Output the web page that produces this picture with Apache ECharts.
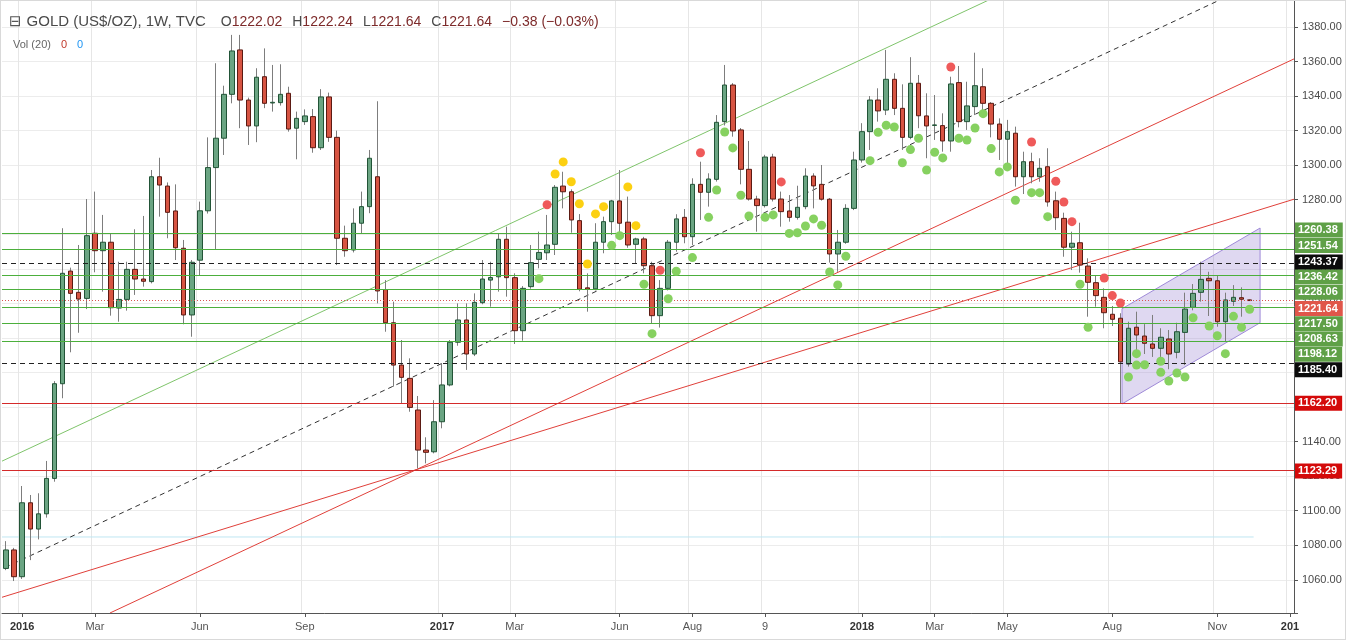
<!DOCTYPE html>
<html><head><meta charset="utf-8">
<script src="https://cdn.jsdelivr.net/npm/echarts@6/dist/echarts.min.js"></script>
<style>html,body{margin:0;padding:0;background:#fff}#c{width:1346px;height:640px;position:absolute;left:0;top:0}
#frame{position:absolute;left:0;top:0;width:1344px;height:638px;border:1px solid #d9d9d9;pointer-events:none}</style>
</head><body><div id="c"></div><div id="frame"></div>
<script>
// ---------- DATA ----------
const startWeek = Date.UTC(2015, 11, 21);
const weekCount = 160;
const weeks = [];
for (let i = 0; i < weekCount; i++) weeks.push(new Date(startWeek + i * 7 * 86400000).toISOString().slice(0, 10));

const opens = [1066.6,1077.3,1061.8,1104.6,1089.4,1098.2,1118.7,1173.5,1238.7,1226.4,
1222.9,1260.6,1250.5,1255.4,1217.3,1222.3,1239.7,1234.1,1232.6,1293.3,
1287.9,1273.5,1251.9,1213.3,1245.0,1273.6,1298.6,1315.6,1341.0,1366.7,
1337.7,1322.7,1351.2,1336.0,1336.2,1341.6,1321.4,1325.2,1328.1,1310.1,
1339.5,1316.1,1257.7,1250.9,1266.4,1276.0,1293.3,1228.0,1208.8,1184.3,
1176.6,1158.3,1135.1,1134.1,1151.5,1172.8,1197.5,1210.4,1190.7,1220.4,
1233.5,1235.4,1257.1,1234.9,1204.2,1229.7,1245.5,1249.3,1254.2,1287.9,
1284.6,1267.9,1229.0,1228.4,1255.4,1267.3,1279.3,1267.0,1254.2,1257.3,
1241.8,1212.9,1228.7,1255.4,1269.8,1258.6,1288.9,1284.3,1291.8,1325.2,
1346.4,1320.4,1297.6,1280.4,1276.6,1304.7,1280.4,1273.5,1269.8,1276.0,
1293.7,1288.9,1280.3,1248.6,1255.4,1275.0,1303.0,1319.4,1337.7,1331.9,
1349.7,1332.9,1316.1,1347.4,1328.5,1323.0,1322.9,1314.0,1347.8,1325.2,
1333.9,1345.4,1335.8,1323.8,1315.0,1318.5,1293.3,1302.0,1293.3,1299.1,
1279.4,1269.2,1252.5,1255.1,1241.6,1232.0,1223.5,1213.7,1211.4,1184.9,
1206.2,1201.1,1196.5,1194.0,1199.4,1191.7,1203.2,1217.7,1226.4,1234.5,
1233.1,1209.4,1221.2,1223.3,1222.02];
const highs = [1082.4,1078.5,1114.3,1109.1,1110.1,1128.8,1175.0,1263.5,1240.7,1253.8,
1280.4,1284.7,1271.2,1260.6,1244.1,1244.1,1262.9,1270.6,1297.2,1304.3,
1290.0,1288.9,1256.7,1245.1,1278.9,1316.1,1359.0,1346.0,1375.4,1375.4,
1339.1,1356.1,1367.6,1358.0,1358.4,1345.4,1331.0,1332.3,1332.5,1344.0,
1342.0,1320.0,1265.0,1275.0,1284.7,1308.8,1337.0,1233.5,1221.0,1198.8,
1188.2,1166.4,1142.5,1164.0,1185.3,1198.8,1220.0,1220.0,1225.8,1245.1,
1244.1,1260.6,1264.4,1237.4,1230.0,1253.8,1261.5,1271.2,1288.5,1296.2,
1286.0,1271.7,1237.4,1266.4,1270.2,1279.9,1297.2,1281.8,1258.0,1258.5,
1244.1,1233.5,1256.7,1271.6,1274.6,1292.4,1302.0,1295.3,1329.0,1358.0,
1347.5,1321.5,1314.0,1282.3,1306.0,1306.6,1284.7,1282.7,1288.1,1298.2,
1295.3,1300.1,1281.0,1262.5,1277.4,1307.8,1324.3,1340.0,1344.5,1366.7,
1353.2,1346.8,1362.5,1352.2,1341.6,1340.6,1330.0,1351.2,1357.4,1348.3,
1365.1,1356.1,1336.5,1327.1,1326.2,1322.3,1307.8,1307.2,1304.0,1309.8,
1284.7,1272.5,1261.5,1266.7,1246.1,1235.9,1228.7,1218.5,1214.3,1209.4,
1215.2,1208.0,1213.3,1205.6,1204.6,1208.8,1226.2,1231.2,1244.1,1238.3,
1236.4,1226.2,1230.6,1229.3,1222.24];
const lows = [1065.6,1059.3,1060.5,1071.4,1083.4,1096.0,1116.8,1165.1,1191.7,1203.0,
1216.7,1238.0,1226.8,1212.9,1209.4,1215.8,1224.9,1229.7,1231.6,1270.2,
1257.7,1245.1,1207.9,1200.7,1236.4,1272.0,1251.5,1305.9,1335.8,1321.4,
1311.7,1313.3,1333.0,1331.0,1334.5,1319.4,1303.4,1323.3,1307.2,1308.8,
1313.5,1242.2,1247.0,1249.5,1260.6,1272.2,1220.0,1203.6,1171.8,1162.2,
1157.3,1124.5,1127.4,1133.2,1147.7,1172.0,1195.5,1181.5,1189.5,1219.5,
1218.1,1226.8,1223.9,1196.5,1198.4,1228.5,1240.3,1245.1,1248.0,1275.0,
1260.9,1227.0,1215.2,1227.5,1249.0,1259.6,1260.6,1252.2,1243.2,1237.4,
1208.5,1206.0,1227.5,1249.9,1254.8,1253.8,1268.3,1276.0,1290.5,1323.0,
1316.5,1288.9,1279.5,1261.5,1275.5,1279.0,1264.4,1267.3,1268.5,1274.5,
1275.0,1279.5,1243.6,1238.3,1254.5,1274.0,1301.5,1308.8,1325.2,1329.0,
1329.0,1308.8,1315.0,1321.4,1304.0,1314.6,1307.8,1307.8,1321.9,1320.4,
1329.0,1331.0,1316.1,1303.0,1301.1,1287.6,1283.3,1289.5,1290.4,1276.0,
1262.5,1247.0,1239.3,1237.8,1212.3,1218.1,1205.6,1206.9,1162.2,1183.4,
1192.0,1190.7,1189.0,1189.0,1181.9,1188.2,1184.3,1216.0,1221.0,1212.7,
1206.5,1197.8,1218.5,1212.3,1221.64];
const closes = [1077.3,1061.8,1104.6,1089.4,1098.2,1118.7,1173.5,1237.4,1225.8,1222.5,
1259.2,1250.5,1255.4,1217.5,1222.3,1239.7,1234.1,1232.8,1293.3,1288.5,
1272.7,1252.2,1213.3,1243.8,1273.6,1298.6,1315.6,1341.0,1366.1,1337.7,
1322.7,1350.9,1335.8,1336.4,1341.0,1320.9,1327.1,1328.5,1310.1,1339.5,
1316.1,1257.7,1250.5,1266.4,1276.0,1304.0,1227.2,1208.8,1184.3,1177.2,
1159.8,1135.1,1133.8,1151.5,1172.8,1197.5,1210.4,1190.7,1220.6,1234.1,
1235.0,1257.1,1234.9,1204.2,1228.7,1243.6,1249.5,1253.8,1287.2,1284.6,
1268.3,1228.2,1228.2,1255.4,1267.3,1279.3,1266.4,1253.8,1257.3,1241.8,
1212.9,1228.7,1255.4,1268.9,1258.6,1288.9,1284.3,1292.0,1324.8,1346.4,
1319.8,1297.6,1280.4,1276.6,1304.7,1280.4,1273.1,1269.8,1275.6,1293.7,
1288.0,1280.3,1248.6,1255.4,1275.0,1303.0,1319.4,1337.7,1331.4,1349.7,
1332.9,1316.1,1347.4,1328.6,1322.7,1323.3,1314.0,1347.0,1325.2,1334.3,
1346.0,1335.8,1323.8,1315.0,1319.4,1293.3,1302.0,1293.3,1298.2,1278.7,
1269.6,1252.5,1254.8,1242.2,1232.2,1224.5,1214.6,1210.8,1186.2,1205.6,
1201.7,1196.9,1194.0,1200.4,1190.7,1203.6,1216.7,1225.8,1233.9,1233.1,
1209.4,1222.0,1223.5,1222.4,1221.64];

// x-axis tick labels (week index -> text)
const tickIndex = [2, 11, 24, 37, 54, 63, 76, 85, 94, 106, 115, 124, 137, 150, 159];
const tickText  = ['2016','Mar','Jun','Sep','2017','Mar','Jun','Aug','9','2018','Mar','May','Aug','Nov','201'];
const yearTicks = ['2016','2017','2018','201'];

// horizontal levels
const greenLevels = [1260.38, 1251.54, 1236.42, 1228.06, 1217.50, 1208.63, 1198.12];
const blackLevels = [1243.37, 1185.40];
const redLevels = [1162.20, 1123.29];
const lastPrice = 1221.64;
const blueLevel = 1084.8;
const blueLevelEnd = [-0.5, 154.5];

// trend lines: [x1, y1, x2, y2] in (week index, price)
const greenTrend = [-0.5, 1128.7, 121.7, 1395.6];
const dashedTrend = [-0.13, 1067.1, 150.3, 1395.6];
const redTrendA = [-0.5, 1049.9, 159.5, 1280.3];
const redTrendB = [12.87, 1040.8, 159.5, 1361.5];

// regression channel polygon
const channelX = [138.2, 155.3, 155.3, 138.2];
const channelY = [1216.9, 1263.6, 1208.8, 1161.8];

// signal dots
const yellowX = [68,69,70,71,72,73,74,77,78];
const yellowY = [1294.9,1301.9,1290.4,1277.7,1242.8,1271.8,1276.0,1287.4,1265.0];
const redX = [67,81,86,96,117,127,130,131,132,136,137,138];
const redY = [1277.1,1239.2,1307.2,1290.3,1356.8,1313.4,1290.7,1278.7,1267.3,1234.7,1224.5,1220.2];
const greenX = [66,75,76,79,80,82,83,85,87,88,89,90,91,92,94,95,97,98,99,100,101,102,103,104,107,108,109,110,111,112,113,114,115,116,118,119,120,121,122,123,124,125,127,128,129,133,134,139,140,140,141,143,143,144,145,146,147,149,150,151,152,153,154];
const greenY = [1234.3,1253.6,1259.2,1231.1,1202.5,1222.7,1238.6,1246.5,1269.8,1285.6,1319.2,1310.0,1282.6,1270.6,1269.8,1271.2,1260.5,1260.9,1264.8,1268.9,1265.2,1238.2,1230.7,1247.3,1302.6,1319.0,1323.1,1322.1,1301.4,1309.0,1315.6,1297.2,1307.5,1304.2,1315.6,1314.6,1321.5,1329.8,1309.6,1296.1,1299.0,1279.7,1284.1,1284.1,1270.2,1231.1,1206.2,1177.4,1190.9,1184.3,1184.5,1186.5,1180.1,1175.1,1179.7,1177.4,1211.7,1206.9,1201.3,1190.9,1212.5,1206.2,1216.6];

const header = { name: 'GOLD (US$/OZ), 1W, TVC', o: '1222.02', h: '1222.24', l: '1221.64', c: '1221.64', chg: '\u22120.38 (\u22120.03%)' };

// ---------- BUILD ----------
const FONT = "'Liberation Sans', Arial, sans-serif";
const tickSet = new Set(tickIndex);
const tickFn = (i) => tickSet.has(i);

const wickData = opens.map((o, i) => [o, closes[i], lows[i], highs[i]]);
const bodyData = opens.map((o, i) => [o, closes[i], Math.min(o, closes[i]), Math.max(o, closes[i])]);
const pts = (xs, ys) => xs.map((x, i) => [x, ys[i]]);
const seg = (a) => [[a[0], a[1]], [a[2], a[3]]];

const labelOffsets = { 1260.38: -3.5, 1251.54: -3.4, 1243.37: -1, 1236.42: 1.7, 1228.06: 2.9, 1221.64: 8,
  1217.50: 16, 1208.63: 16, 1198.12: 13, 1185.40: 6.5, 1162.20: 0, 1123.29: 0.5 };
function lvl(v, lineColor, lineType, boxColor) {
  return {
    yAxis: v,
    lineStyle: { color: lineColor, type: lineType, width: 1, opacity: 1 },
    label: { show: true, position: 'end', distance: 1, formatter: v.toFixed(2), color: '#fff', fontSize: 11,
      fontWeight: 'bold', fontFamily: FONT, backgroundColor: boxColor, padding: [2, 5, 1, 3], lineHeight: 12,
      offset: [0, labelOffsets[v] || 0] }
  };
}
const levelLines = [];
greenLevels.forEach(v => levelLines.push(lvl(v, '#4caf3c', 'solid', '#5fa047')));
blackLevels.forEach(v => levelLines.push(lvl(v, '#222', [5, 4], '#0b0b0b')));
redLevels.forEach(v => levelLines.push(lvl(v, '#d42a2a', 'solid', '#d40a0a')));
levelLines.push(lvl(lastPrice, '#d9534f', [1, 2], '#e0564a'));

function trend(a, color, type) {
  return { type: 'line', xAxisIndex: 1, yAxisIndex: 0, data: seg(a), symbol: 'none', silent: true, z: 2,
    lineStyle: { color: color, width: 1, type: type || 'solid' }, animation: false };
}

const chart = echarts.init(document.getElementById('c'), null, { renderer: 'canvas' });
chart.setOption({
  animation: false,
  backgroundColor: '#fff',
  title: [{
    left: 4, top: 8,
    text: '{ic|\u229F} {t|' + header.name + '}   {k|O}{v|' + header.o + '}  {k|H}{v|' + header.h + '}  {k|L}{v|' +
      header.l + '}  {k|C}{v|' + header.c + '}  {v|' + header.chg + '}',
    textStyle: { fontWeight: 'normal', rich: {
      ic: { fontSize: 15, color: '#555', fontFamily: 'DejaVu Sans', fontWeight: 'normal' },
      t: { fontSize: 15, color: '#4a4a4a', fontFamily: FONT, fontWeight: 'normal' },
      k: { fontSize: 14, color: '#4a4a4a', fontFamily: FONT, fontWeight: 'normal' },
      v: { fontSize: 14, color: '#7d2a2a', fontFamily: FONT, fontWeight: 'normal' }
    } }
  }, {
    left: 8, top: 31,
    text: '{g|Vol (20)}  {r|0}  {b|0}',
    textStyle: { fontWeight: 'normal', rich: {
      g: { fontSize: 11, color: '#666', fontFamily: FONT, fontWeight: 'normal' },
      r: { fontSize: 11, color: '#c0392b', fontFamily: FONT, fontWeight: 'normal' },
      b: { fontSize: 11, color: '#2196f3', fontFamily: FONT, fontWeight: 'normal' }
    } }
  }],
  grid: { left: 2, right: 52, top: 0, bottom: 27, containLabel: false, outerBoundsMode: 'none', show: false },
  xAxis: [{
    type: 'category', data: weeks, boundaryGap: true,
    axisLine: { show: true, onZero: false, lineStyle: { color: '#555', width: 1 } },
    axisTick: { show: true, interval: tickFn, alignWithLabel: true, length: 4, lineStyle: { color: '#555' } },
    axisLabel: { interval: tickFn, margin: 8, fontSize: 11, color: '#555', fontFamily: FONT,
      formatter: (val, idx) => { const t = tickText[tickIndex.indexOf(idx)]; if (t === undefined) return ''; return yearTicks.includes(t) ? '{b|' + t + '}' : t; },
      rich: { b: { fontWeight: 'bold', color: '#333', fontSize: 11, fontFamily: FONT } } },
    splitLine: { show: true, interval: tickFn, lineStyle: { color: '#e6e6e6', width: 1 } }
  }, {
    type: 'value', min: -0.5, max: weekCount - 0.5, show: false,
    axisLine: { show: false, onZero: false }, axisTick: { show: false }, splitLine: { show: false }, axisLabel: { show: false }
  }],
  yAxis: [{
    type: 'value', position: 'right', min: 1040.8, max: 1395.6, splitNumber: 18, scale: true,
    axisLine: { show: true, onZero: false, lineStyle: { color: '#555', width: 1 } },
    axisTick: { show: true, inside: false, length: 4, lineStyle: { color: '#555' } },
    axisLabel: { margin: 8, fontSize: 11, color: '#4a4a4a', fontFamily: FONT,
      formatter: (v) => (Math.abs(v / 20 - Math.round(v / 20)) < 1e-6 ? v.toFixed(2) : '') },
    splitLine: { show: true, lineStyle: { color: '#ececec', width: 1 } }
  }],
  series: [
    { type: 'line', name: 'levels', xAxisIndex: 1, yAxisIndex: 0, z: 1, silent: true, symbol: 'none',
      data: [[blueLevelEnd[0], blueLevel], [blueLevelEnd[1], blueLevel]],
      lineStyle: { color: '#bfe6f2', width: 1 },
      markLine: { silent: true, symbol: ['none', 'none'], animation: false, data: levelLines } },
    trend(greenTrend, '#7fc46b'),
    trend(dashedTrend, '#333', [5, 4]),
    trend(redTrendA, '#e0403a'),
    trend(redTrendB, '#e0403a'),
    { type: 'custom', xAxisIndex: 1, yAxisIndex: 0, z: 2, silent: true,
      data: pts(channelX, channelY), encode: { x: 0, y: 1 },
      renderItem: function (params, api) {
        if (params.dataIndex !== 0) return null;
        const poly = channelX.map((x, i) => api.coord([x, channelY[i]]));
        return { type: 'polygon', shape: { points: poly },
          style: { fill: 'rgba(150,125,210,0.30)', stroke: '#9f8ad8', lineWidth: 1 } };
      } },
    { type: 'candlestick', name: 'wicks', xAxisIndex: 0, yAxisIndex: 0, z: 3, silent: true, barWidth: 1,
      data: wickData,
      itemStyle: { color: '#7d7d7d', color0: '#7d7d7d', borderColor: '#7d7d7d', borderColor0: '#7d7d7d', borderColorDoji: '#7d7d7d', borderWidth: 1 } },
    { type: 'candlestick', name: 'GOLD', xAxisIndex: 0, yAxisIndex: 0, z: 4, barWidth: 5,
      data: bodyData,
      itemStyle: { color: '#6ba583', color0: '#d75442', borderColor: '#225437', borderColor0: '#5b1a13', borderColorDoji: '#5b1a13', borderWidth: 1 } },
    { type: 'scatter', xAxisIndex: 1, yAxisIndex: 0, z: 5, symbolSize: 9, data: pts(greenX, greenY),
      itemStyle: { color: '#86d160', opacity: 1 } },
    { type: 'scatter', xAxisIndex: 1, yAxisIndex: 0, z: 5, symbolSize: 9, data: pts(redX, redY),
      itemStyle: { color: '#ef5a5a', opacity: 1 } },
    { type: 'scatter', xAxisIndex: 1, yAxisIndex: 0, z: 5, symbolSize: 9, data: pts(yellowX, yellowY),
      itemStyle: { color: '#fcd011', opacity: 1 } }
  ]
});
</script></body></html>
